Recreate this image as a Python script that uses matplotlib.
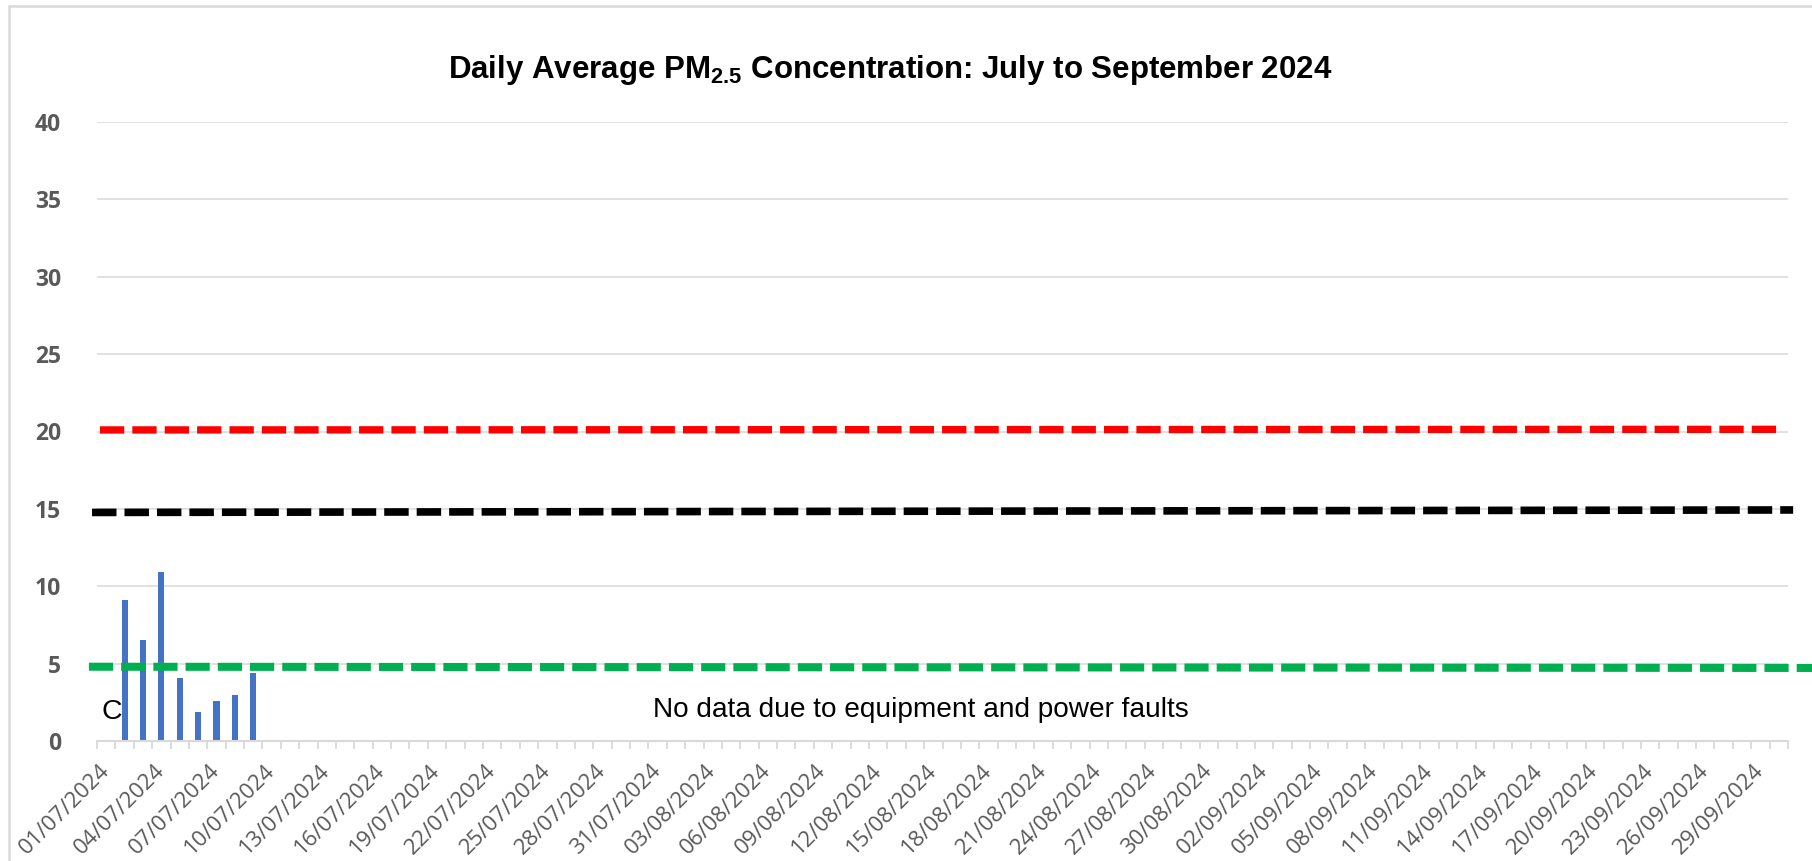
import datetime as dt
import matplotlib
matplotlib.use("Agg")
import matplotlib.pyplot as plt
from matplotlib.patches import Rectangle

plt.rcParams["mathtext.fontset"] = "custom"
plt.rcParams["mathtext.bf"] = "Liberation Sans:bold"
plt.rcParams["mathtext.rm"] = "Liberation Sans"

# categories: every day, 1 July - 30 September 2024
start = dt.date(2024, 7, 1)
days = [start + dt.timedelta(days=i) for i in range(92)]
date_labels = [d.strftime("%d/%m/%Y") for d in days]

# daily PM2.5 (only 02/07 - 09/07 recorded)
pm25_dates = ["02/07/2024", "03/07/2024", "04/07/2024", "05/07/2024",
              "06/07/2024", "07/07/2024", "08/07/2024", "09/07/2024"]
pm25_values = [9.1, 6.5, 10.9, 4.1, 1.9, 2.6, 3.0, 4.4]

# guideline lines (value at left end, value at right end)
red_line = [20.1, 20.14]
black_line = [14.77, 14.93]
green_line = [4.8, 4.72]

yticks = [0, 5, 10, 15, 20, 25, 30, 35, 40]

W, H = 1812, 861
fig = plt.figure(figsize=(W / 100, H / 100), dpi=100)
ax = fig.add_axes([97 / W, 1 - 741 / H, (1788 - 97) / W, (741 - 122) / H])

grid_c = "#d9d9d9"
label_c = "#595959"

ax.set_xlim(-0.5, len(days) - 0.5)
ax.set_ylim(0, 40)
ax.set_yticks(yticks)
for y in yticks[1:]:
    ax.axhline(y, color=grid_c, lw=1.1, zorder=0)

xs = [date_labels.index(d) for d in pm25_dates]
ax.bar(xs, pm25_values, width=0.33, color="#4472C4", zorder=2)

# dashed guideline lines (drawn past the axes like shapes in the original)
ax.plot([-0.34, 91.17], red_line, color="#ff0000", lw=5.3,
        dashes=(3.3, 1.1), clip_on=False, zorder=3)
ax.plot([-0.77, 91.78], black_line, color="black", lw=5.5,
        dashes=(3.2, 1.05), clip_on=False, zorder=3)
ax.plot([-0.94, 93.0], green_line, color="#00b050", lw=5.8,
        dashes=(3.0, 1.0), clip_on=False, zorder=3)

for s in ["top", "right", "left"]:
    ax.spines[s].set_visible(False)
ax.spines["bottom"].set_color(grid_c)
ax.spines["bottom"].set_linewidth(1.5)

ax.set_xticks(range(0, len(days), 3))
ax.set_xticklabels(date_labels[::3], rotation=45, ha="right", va="center",
                   rotation_mode="anchor", fontsize=16, color=label_c,
                   family="Open Sans")
ax.set_xticks([i - 0.5 for i in range(len(days) + 1)], minor=True)
ax.tick_params(axis="x", which="major", length=0, pad=19)
ax.tick_params(axis="x", which="minor", length=6, color=grid_c, width=1.3)

ax.tick_params(axis="y", length=0, pad=26)
for t in ax.get_yticklabels():
    t.set_fontsize(16.5)
    t.set_fontweight("bold")
    t.set_color(label_c)
    t.set_family("Open Sans")

ax.text(0.32, 1.87, "C", fontsize=20.5, family="Liberation Sans",
        ha="center", va="center", zorder=4)
ax.text(44.3, 2.0, "No data due to equipment and power faults", fontsize=20.2,
        family="Liberation Sans", ha="center", va="center", zorder=4)

fig.text(890 / W, 1 - 70 / H,
         r"Daily Average PM$_{\mathbf{2.5}}$ Concentration: July to September 2024",
         fontsize=22.5, fontweight="bold", family="Liberation Sans",
         ha="center", va="center")

# chart border
fig.patches.append(Rectangle((8.5 / W, -0.1), 1.2, 1 - 5.5 / H + 0.1,
                             transform=fig.transFigure, fill=False,
                             edgecolor=grid_c, lw=1.8))

fig.savefig("out.png", dpi=100)
